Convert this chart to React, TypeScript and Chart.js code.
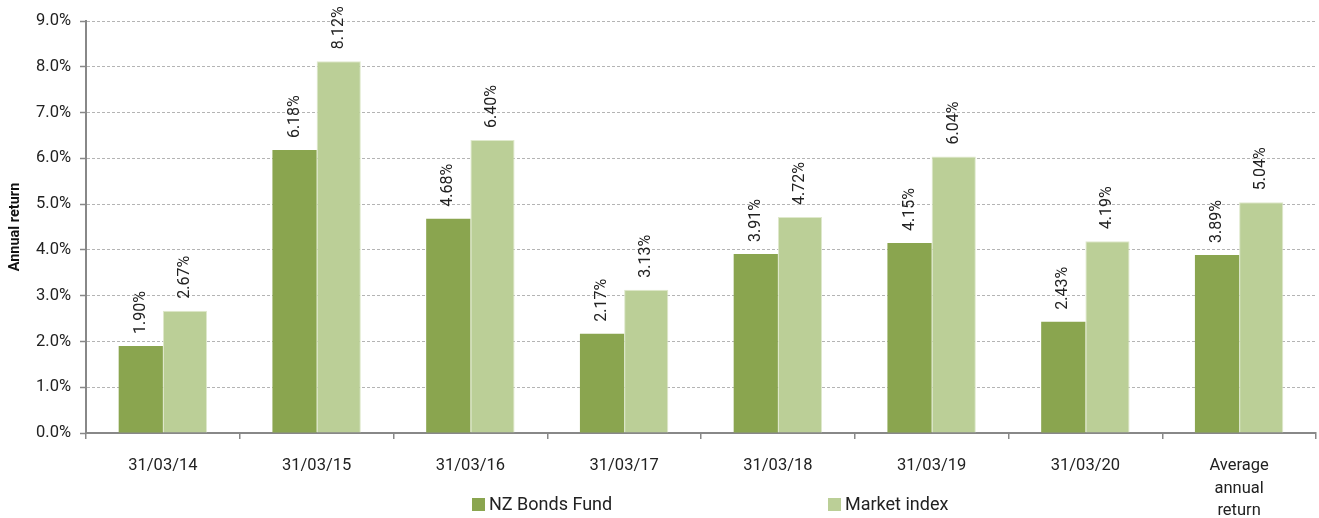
import React, { useEffect, useRef } from "react";
import { Chart, registerables } from "chart.js";

Chart.register(...registerables);

const categories: (string | string[])[] = [
  "31/03/14",
  "31/03/15",
  "31/03/16",
  "31/03/17",
  "31/03/18",
  "31/03/19",
  "31/03/20",
  ["Average", "annual", "return"],
];
const fundValues = [1.9, 6.18, 4.68, 2.17, 3.91, 4.15, 2.43, 3.89];
const indexValues = [2.67, 8.12, 6.4, 3.13, 4.72, 6.04, 4.19, 5.04];
const seriesNames = ["NZ Bonds Fund", "Market index"];
const seriesColors = ["#8aa54f", "#bbcf97"];

const FONT = "Roboto, 'Liberation Sans', sans-serif";

const labelPlugin = {
  id: "valueLabels",
  afterDatasetsDraw(chart: any) {
    const ctx = chart.ctx;
    ctx.save();
    ctx.font = `16px ${FONT}`;
    ctx.fillStyle = "#222";
    ctx.textAlign = "left";
    ctx.textBaseline = "middle";
    chart.data.datasets.forEach((ds: any, di: number) => {
      const meta = chart.getDatasetMeta(di);
      meta.data.forEach((bar: any, i: number) => {
        const v = ds.data[i];
        ctx.save();
        ctx.translate(bar.x, bar.y - 12);
        ctx.rotate(-Math.PI / 2);
        ctx.fillText(v.toFixed(2) + "%", 0, 0);
        ctx.restore();
      });
    });
    ctx.restore();
  },
};

const legendPlugin = {
  id: "customLegend",
  afterDraw(chart: any) {
    const ctx = chart.ctx;
    ctx.save();
    ctx.font = `18px ${FONT}`;
    ctx.textBaseline = "middle";
    ctx.textAlign = "left";
    const xs = [472, 828];
    const y = 505;
    chart.data.datasets.forEach((ds: any, di: number) => {
      ctx.fillStyle = ds.backgroundColor;
      ctx.fillRect(xs[di], y - 7, 13, 13);
      ctx.fillStyle = "#222";
      ctx.fillText(ds.label, xs[di] + 17, y);
    });
    ctx.restore();
  },
};

export default function App() {
  const ref = useRef<HTMLCanvasElement>(null);
  useEffect(() => {
    if (!ref.current) return;
    const chart = new Chart(ref.current, {
      type: "bar",
      data: {
        labels: categories,
        datasets: [
          {
            label: seriesNames[0],
            data: fundValues,
            backgroundColor: seriesColors[0],
            categoryPercentage: 0.575,
            barPercentage: 1,
          },
          {
            label: seriesNames[1],
            data: indexValues,
            backgroundColor: seriesColors[1],
            borderColor: "#dfe9cc",
            borderWidth: 1,
            categoryPercentage: 0.575,
            barPercentage: 1,
          },
        ],
      },
      options: {
        animation: false,
        responsive: false,
        layout: { padding: { top: 21, right: 3, left: 0, bottom: 0 } },
        plugins: {
          legend: { display: false },
          tooltip: { enabled: false },
        },
        scales: {
          x: {
            offset: true,
            grid: {
              offset: true,
              drawOnChartArea: false,
              drawTicks: true,
              tickLength: 6,
              color: "#888",
              lineWidth: 1.5,
            },
            border: { color: "#888", width: 2 },
            ticks: {
              color: "#222",
              font: { family: FONT, size: 16.5, lineHeight: 1.35 },
              padding: 16,
              maxRotation: 0,
              autoSkip: false,
            },
            afterFit(scale: any) {
              scale.height = 85;
            },
          },
          y: {
            min: 0,
            max: 9,
            ticks: {
              stepSize: 1,
              color: "#222",
              font: { family: FONT, size: 16.5 },
              padding: 9,
              callback: (v: any) => Number(v).toFixed(1) + "%",
            },
            grid: {
              color: "#b4b4b4",
              lineWidth: 1,
              tickLength: 6,
              tickColor: "#888",
              tickBorderDash: [0, 0],
              tickWidth: 1.5,
            } as any,
            border: { color: "#888", width: 2, dash: [3, 2] },
            title: {
              display: true,
              text: "Annual return",
              color: "#111",
              font: { family: FONT, size: 14.5, weight: "bold" },
              padding: { top: 7, bottom: 0 },
            },
            afterFit(scale: any) {
              scale.width = 86;
            },
          },
        },
      },
      plugins: [labelPlugin, legendPlugin],
    });
    return () => chart.destroy();
  }, []);
  return (
    <div style={{ position: "fixed", left: 0, top: 0, width: 1319, height: 518, background: "#fff" }}>
      <canvas ref={ref} width={1319} height={518} style={{ display: "block" }} />
    </div>
  );
}
